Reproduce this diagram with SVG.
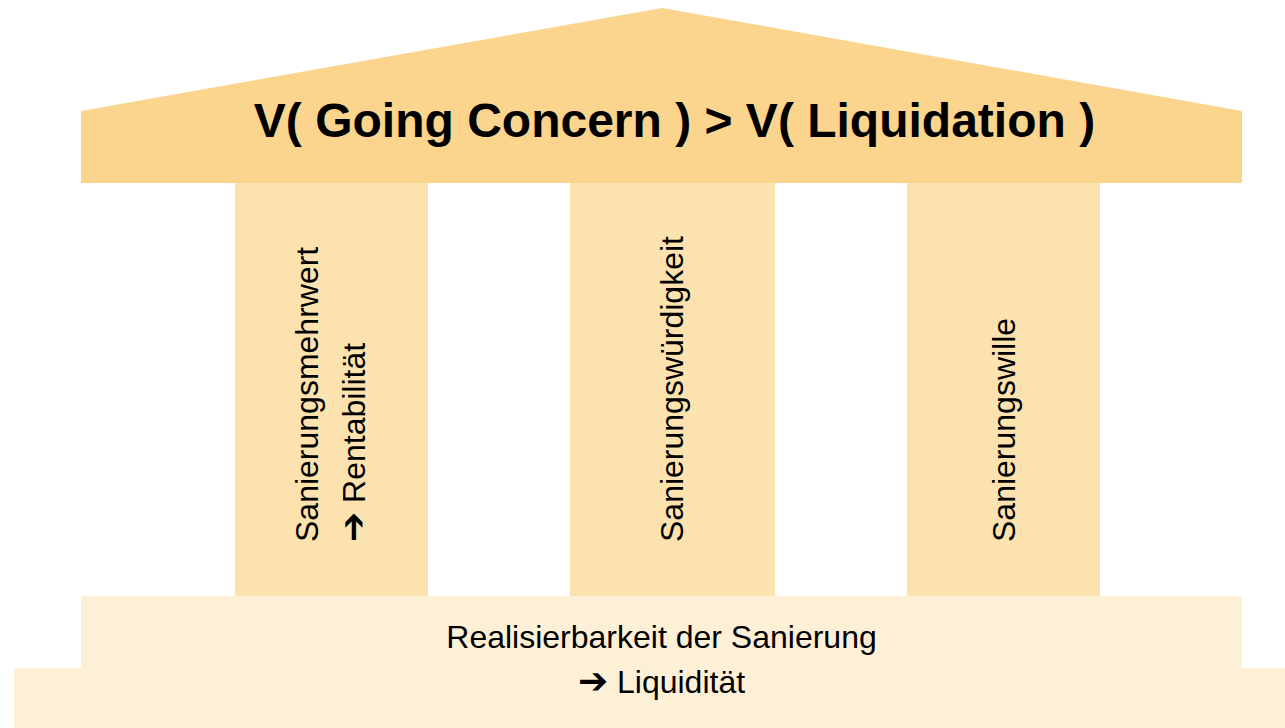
<svg xmlns="http://www.w3.org/2000/svg" width="1285" height="728" viewBox="0 0 1285 728">
  <style>
    .roof { fill: #FBD48E; }
    .pillar { fill: #FCE2AF; }
    .base { fill: #FEF0D7; }
    .title { font-family: "Liberation Sans", Arial, sans-serif; font-weight: bold; font-size: 48px; fill: #000; }
    .lbl { font-family: "Liberation Sans", Arial, "DejaVu Sans", sans-serif; font-size: 32px; fill: #000; }
    .arr { font-family: "DejaVu Sans", sans-serif; font-weight: bold; font-size: 36px; }
  </style>
  <rect width="1285" height="728" fill="#FFFFFF"/>
  <g id="roof">
    <polygon class="roof" points="81,111 662,8 1242,111 1242,183 81,183"/>
    <text class="title" x="674.5" y="137" text-anchor="middle">V( Going Concern ) &gt; V( Liquidation )</text>
  </g>
  <g id="pillar1">
    <rect class="pillar" x="235" y="183" width="193" height="413"/>
    <text class="lbl" transform="translate(318,542) rotate(-90)">Sanierungsmehrwert</text>
    <text class="lbl" transform="translate(365,542) rotate(-90)"><tspan class="arr">➔</tspan> Rentabilität</text>
  </g>
  <g id="pillar2">
    <rect class="pillar" x="570" y="183" width="205" height="413"/>
    <text class="lbl" transform="translate(683,542) rotate(-90)">Sanierungswürdigkeit</text>
  </g>
  <g id="pillar3">
    <rect class="pillar" x="907" y="183" width="193" height="413"/>
    <text class="lbl" transform="translate(1015,542) rotate(-90)">Sanierungswille</text>
  </g>
  <g id="base">
    <rect class="base" x="81" y="596" width="1161" height="72"/>
    <rect class="base" x="14" y="668" width="1271" height="60"/>
    <text class="lbl" x="661.5" y="648" text-anchor="middle">Realisierbarkeit der Sanierung</text>
    <text class="lbl" x="661.5" y="693" text-anchor="middle"><tspan class="arr">➔</tspan> Liquidität</text>
  </g>
  <g id="connectors"/>
</svg>
